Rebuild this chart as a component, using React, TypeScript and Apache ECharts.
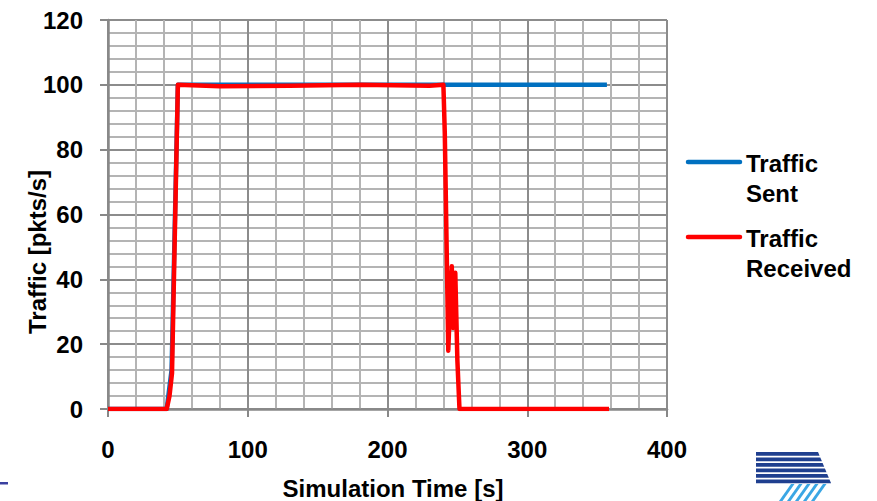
import React, { useEffect, useRef } from "react";
import * as echarts from "echarts";

// Simulation time [s] and traffic [pkts/s]
const sentTime = [0, 42, 45.5, 50, 120, 240, 300, 357];
const sentValue = [0, 0, 12, 100, 100, 100, 100, 100];

const recvTime = [0, 42, 44, 45.8, 50, 80, 130, 180, 230, 240, 241, 242.5, 243.5, 244.5, 246, 247, 248.5, 250, 251.5, 300, 358.5];
const recvValue = [0, 0, 4, 11, 100, 99.6, 99.7, 100, 99.7, 100, 85, 45, 18, 30, 44, 25, 42, 15, 0, 0, 0];

const xTicks = [0, 100, 200, 300, 400];
const yTicks = [0, 20, 40, 60, 80, 100, 120];

const seriesNames = ["Traffic\nSent", "Traffic\nReceived"];
const seriesColors = ["#0070c0", "#ff0000"];

const FONT = "'Liberation Sans', Arial, sans-serif";

const pairs = (xs: number[], ys: number[]) => xs.map((x, i) => [x, ys[i]]);

export default function App() {
  const ref = useRef<HTMLDivElement>(null);

  useEffect(() => {
    if (!ref.current) return;
    const chart = echarts.init(ref.current, undefined, { renderer: "svg" });

    const labelStyle = {
      color: "#000",
      fontFamily: FONT,
      fontWeight: "bold" as const,
      fontSize: 24,
    };

    // stripes of the logo in the lower right corner
    const logoBars: any[] = [];
    const barTops = [452, 457.5, 463, 468.5, 474, 479.5];
    barTops.forEach((t, i) => {
      const r0 = 818 + i * 2.3;
      const r1 = r0 + 1.6;
      logoBars.push({
        type: "polygon",
        shape: { points: [[756, t], [r0, t], [r1, t + 3.8], [756, t + 3.8]] },
        style: { fill: "#1f3f8f" },
        silent: true,
      });
    });
    const diag: any[] = [];
    for (let i = 0; i < 5; i++) {
      const bx = 779 + i * 8;
      diag.push({
        type: "polygon",
        shape: { points: [[bx, 501], [bx + 3.5, 501], [bx + 15.5, 484], [bx + 12, 484]] },
        style: { fill: "#3aa6e4" },
        silent: true,
      });
    }

    const legendY = [162, 237];
    const legendItems: any[] = [];
    seriesNames.forEach((name, i) => {
      legendItems.push({
        type: "line",
        shape: { x1: 688, y1: legendY[i], x2: 740, y2: legendY[i] },
        style: { stroke: seriesColors[i], lineWidth: 4.5, lineCap: "round" },
        silent: true,
      });
      legendItems.push({
        type: "text",
        x: 746,
        y: legendY[i] - 14,
        style: {
          text: name,
          fill: "#000",
          font: `bold 24px ${FONT}`,
          lineHeight: 30,
          textAlign: "left",
          textVerticalAlign: "top",
        },
        silent: true,
      });
    });

    chart.setOption({
      animation: false,
      backgroundColor: "#ffffff",
      grid: { left: 108, right: 210, top: 20, bottom: 92, containLabel: false },
      xAxis: {
        type: "value",
        min: xTicks[0],
        max: xTicks[xTicks.length - 1],
        interval: 100,
        axisLine: { show: true, lineStyle: { color: "#888888", width: 2.5 } },
        axisTick: { show: true, inside: false, length: 8, lineStyle: { color: "#888888", width: 2 } },
        axisLabel: { ...labelStyle, margin: 28 },
        splitLine: { show: true, lineStyle: { color: "#8c8c8c", width: 2 } },
        minorTick: { show: false, splitNumber: 5 },
        minorSplitLine: { show: true, lineStyle: { color: "#b4b4b4", width: 2 } },
      },
      yAxis: {
        type: "value",
        min: yTicks[0],
        max: yTicks[yTicks.length - 1],
        interval: 20,
        axisLine: { show: true, lineStyle: { color: "#888888", width: 2.5 } },
        axisTick: { show: true, inside: false, length: 8, lineStyle: { color: "#888888", width: 2 } },
        axisLabel: { ...labelStyle, margin: 25 },
        splitLine: { show: true, lineStyle: { color: "#8c8c8c", width: 2 } },
        minorTick: { show: false, splitNumber: 5 },
        minorSplitLine: { show: true, lineStyle: { color: "#b4b4b4", width: 2 } },
      },
      series: [
        {
          name: seriesNames[0],
          type: "line",
          data: pairs(sentTime, sentValue),
          showSymbol: false,
          symbol: "none",
          lineStyle: { color: seriesColors[0], width: 4.5, join: "round" },
          itemStyle: { color: seriesColors[0] },
          z: 2,
        },
        {
          name: seriesNames[1],
          type: "line",
          data: pairs(recvTime, recvValue),
          showSymbol: false,
          symbol: "none",
          lineStyle: { color: seriesColors[1], width: 4.5, join: "round" },
          itemStyle: { color: seriesColors[1] },
          z: 3,
        },
      ],
      graphic: [
        {
          type: "text",
          x: 393,
          y: 488,
          style: {
            text: "Simulation Time [s]",
            fill: "#000",
            font: `bold 24px ${FONT}`,
            textAlign: "center",
            textVerticalAlign: "middle",
          },
          silent: true,
        },
        {
          type: "text",
          x: 37,
          y: 252,
          rotation: Math.PI / 2,
          style: {
            text: "Traffic [pkts/s]",
            fill: "#000",
            font: `bold 24px ${FONT}`,
            textAlign: "center",
            textVerticalAlign: "middle",
          },
          silent: true,
        },
        ...legendItems,
        {
          type: "rect",
          shape: { x: 0, y: 482, width: 8, height: 2.5 },
          style: { fill: "#3a40a0" },
          silent: true,
        },
        ...logoBars,
        ...diag,
      ],
    });

    return () => chart.dispose();
  }, []);

  return (
    <div
      ref={ref}
      style={{ position: "fixed", left: 0, top: 0, width: 877, height: 501, background: "#fff" }}
    />
  );
}
